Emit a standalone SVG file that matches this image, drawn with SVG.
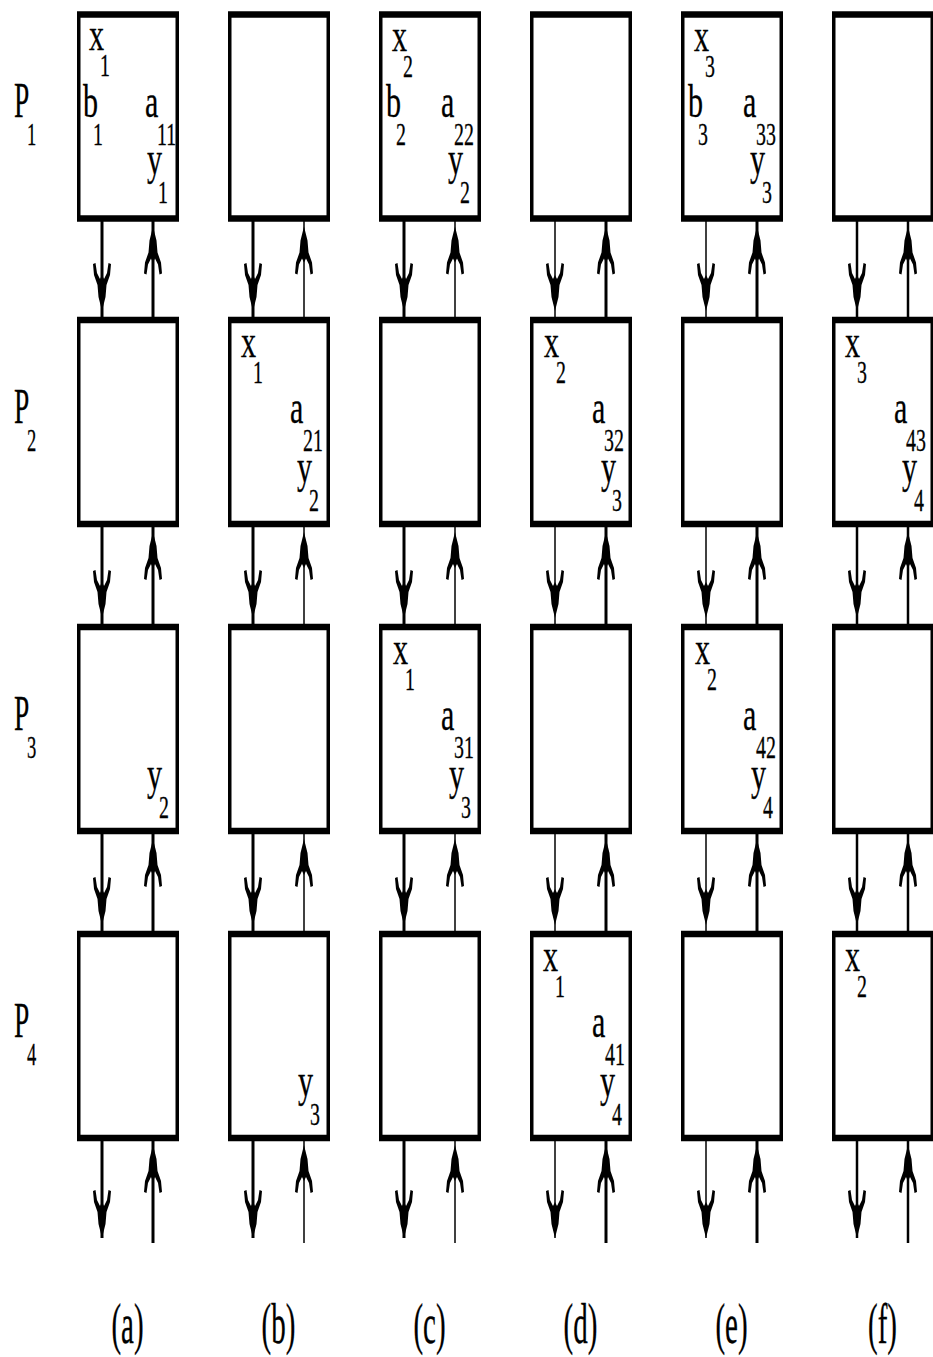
<svg xmlns="http://www.w3.org/2000/svg" xmlns:xlink="http://www.w3.org/1999/xlink" width="933" height="1357" viewBox="0 0 933 1357">
<style>
.bx{fill:#fff;stroke:#000;stroke-width:3.5}
.bd{stroke:#000;stroke-width:6.5}
.tk{stroke:#000;stroke-width:3}
.tn{stroke:#000;stroke-width:1.5}
.md{stroke:#000;stroke-width:2.5}
text{font-family:"Liberation Serif","Times New Roman",serif;fill:#000;stroke:#000;stroke-width:0.3}
.m{font-size:47px}
.s{font-size:31px}
.p{font-size:50px}
.ps{font-size:32px}
.l{font-size:58px;text-anchor:middle}
</style>
<defs>
<path id="hd" d="M0,0 L-3.5,-14 L-4.5,-26 L-8,-36 L-9,-47 L-6.5,-48 L-5,-38 L-2,-32 L0,-36 L2,-32 L5,-38 L6.5,-48 L9,-47 L8,-36 L4.5,-26 L3.5,-14 Z" fill="#000"/>
</defs>
<rect width="933" height="1357" fill="#fff"/>
<g id="connectors">
<line class="tk" x1="102" y1="218" x2="102" y2="320"/><use xlink:href="#hd" transform="translate(102,311)"/>
<line class="tk" x1="153" y1="218" x2="153" y2="320"/><use xlink:href="#hd" transform="translate(153,226.5) rotate(180)"/>
<line class="tk" x1="102" y1="524" x2="102" y2="627"/><use xlink:href="#hd" transform="translate(102,618)"/>
<line class="tk" x1="153" y1="524" x2="153" y2="627"/><use xlink:href="#hd" transform="translate(153,532) rotate(180)"/>
<line class="tk" x1="102" y1="831" x2="102" y2="934"/><use xlink:href="#hd" transform="translate(102,925)"/>
<line class="tk" x1="153" y1="831" x2="153" y2="934"/><use xlink:href="#hd" transform="translate(153,839) rotate(180)"/>
<line class="tk" x1="102" y1="1138" x2="102" y2="1238"/><use xlink:href="#hd" transform="translate(102,1238)"/>
<line class="tk" x1="153" y1="1243" x2="153" y2="1138"/><use xlink:href="#hd" transform="translate(153,1145) rotate(180)"/>
<line class="tk" x1="253" y1="218" x2="253" y2="320"/><use xlink:href="#hd" transform="translate(253,311)"/>
<line class="tn" x1="304" y1="218" x2="304" y2="320"/><use xlink:href="#hd" transform="translate(304,226.5) rotate(180)"/>
<line class="tk" x1="253" y1="524" x2="253" y2="627"/><use xlink:href="#hd" transform="translate(253,618)"/>
<line class="tn" x1="304" y1="524" x2="304" y2="627"/><use xlink:href="#hd" transform="translate(304,532) rotate(180)"/>
<line class="tk" x1="253" y1="831" x2="253" y2="934"/><use xlink:href="#hd" transform="translate(253,925)"/>
<line class="tn" x1="304" y1="831" x2="304" y2="934"/><use xlink:href="#hd" transform="translate(304,839) rotate(180)"/>
<line class="tk" x1="253" y1="1138" x2="253" y2="1238"/><use xlink:href="#hd" transform="translate(253,1238)"/>
<line class="tn" x1="304" y1="1243" x2="304" y2="1138"/><use xlink:href="#hd" transform="translate(304,1145) rotate(180)"/>
<line class="tk" x1="404" y1="218" x2="404" y2="320"/><use xlink:href="#hd" transform="translate(404,311)"/>
<line class="tn" x1="455" y1="218" x2="455" y2="320"/><use xlink:href="#hd" transform="translate(455,226.5) rotate(180)"/>
<line class="tk" x1="404" y1="524" x2="404" y2="627"/><use xlink:href="#hd" transform="translate(404,618)"/>
<line class="tn" x1="455" y1="524" x2="455" y2="627"/><use xlink:href="#hd" transform="translate(455,532) rotate(180)"/>
<line class="tk" x1="404" y1="831" x2="404" y2="934"/><use xlink:href="#hd" transform="translate(404,925)"/>
<line class="tn" x1="455" y1="831" x2="455" y2="934"/><use xlink:href="#hd" transform="translate(455,839) rotate(180)"/>
<line class="tk" x1="404" y1="1138" x2="404" y2="1238"/><use xlink:href="#hd" transform="translate(404,1238)"/>
<line class="tn" x1="455" y1="1243" x2="455" y2="1138"/><use xlink:href="#hd" transform="translate(455,1145) rotate(180)"/>
<line class="tn" x1="555" y1="218" x2="555" y2="320"/><use xlink:href="#hd" transform="translate(555,311)"/>
<line class="tk" x1="606" y1="218" x2="606" y2="320"/><use xlink:href="#hd" transform="translate(606,226.5) rotate(180)"/>
<line class="tn" x1="555" y1="524" x2="555" y2="627"/><use xlink:href="#hd" transform="translate(555,618)"/>
<line class="tk" x1="606" y1="524" x2="606" y2="627"/><use xlink:href="#hd" transform="translate(606,532) rotate(180)"/>
<line class="tn" x1="555" y1="831" x2="555" y2="934"/><use xlink:href="#hd" transform="translate(555,925)"/>
<line class="tk" x1="606" y1="831" x2="606" y2="934"/><use xlink:href="#hd" transform="translate(606,839) rotate(180)"/>
<line class="tn" x1="555" y1="1138" x2="555" y2="1238"/><use xlink:href="#hd" transform="translate(555,1238)"/>
<line class="tk" x1="606" y1="1243" x2="606" y2="1138"/><use xlink:href="#hd" transform="translate(606,1145) rotate(180)"/>
<line class="tn" x1="706" y1="218" x2="706" y2="320"/><use xlink:href="#hd" transform="translate(706,311)"/>
<line class="tk" x1="757" y1="218" x2="757" y2="320"/><use xlink:href="#hd" transform="translate(757,226.5) rotate(180)"/>
<line class="tn" x1="706" y1="524" x2="706" y2="627"/><use xlink:href="#hd" transform="translate(706,618)"/>
<line class="tk" x1="757" y1="524" x2="757" y2="627"/><use xlink:href="#hd" transform="translate(757,532) rotate(180)"/>
<line class="tn" x1="706" y1="831" x2="706" y2="934"/><use xlink:href="#hd" transform="translate(706,925)"/>
<line class="tk" x1="757" y1="831" x2="757" y2="934"/><use xlink:href="#hd" transform="translate(757,839) rotate(180)"/>
<line class="tn" x1="706" y1="1138" x2="706" y2="1238"/><use xlink:href="#hd" transform="translate(706,1238)"/>
<line class="tk" x1="757" y1="1243" x2="757" y2="1138"/><use xlink:href="#hd" transform="translate(757,1145) rotate(180)"/>
<line class="md" x1="857" y1="218" x2="857" y2="320"/><use xlink:href="#hd" transform="translate(857,311)"/>
<line class="md" x1="908" y1="218" x2="908" y2="320"/><use xlink:href="#hd" transform="translate(908,226.5) rotate(180)"/>
<line class="md" x1="857" y1="524" x2="857" y2="627"/><use xlink:href="#hd" transform="translate(857,618)"/>
<line class="md" x1="908" y1="524" x2="908" y2="627"/><use xlink:href="#hd" transform="translate(908,532) rotate(180)"/>
<line class="md" x1="857" y1="831" x2="857" y2="934"/><use xlink:href="#hd" transform="translate(857,925)"/>
<line class="md" x1="908" y1="831" x2="908" y2="934"/><use xlink:href="#hd" transform="translate(908,839) rotate(180)"/>
<line class="md" x1="857" y1="1138" x2="857" y2="1238"/><use xlink:href="#hd" transform="translate(857,1238)"/>
<line class="md" x1="908" y1="1243" x2="908" y2="1138"/><use xlink:href="#hd" transform="translate(908,1145) rotate(180)"/>
</g>
<g id="row1">
<g id="a1"><rect class="bx" x="78.75" y="14.5" width="98.5" height="204"/><line class="bd" x1="77" y1="14.5" x2="179" y2="14.5"/><line class="bd" x1="77" y1="218.5" x2="179" y2="218.5"/>
<text class="m" transform="translate(89 50) scale(.64 1)">x</text><text class="s" transform="translate(100 76) scale(.64 1)">1</text>
<text class="m" transform="translate(83 117) scale(.64 1)">b</text><text class="s" transform="translate(93 145) scale(.64 1)">1</text>
<text class="m" transform="translate(145 117) scale(.64 1)">a</text><text class="s" transform="translate(157 145) scale(.64 1)">11</text>
<text class="m" transform="translate(147 174) scale(.64 1)">y</text><text class="s" transform="translate(158 203) scale(.64 1)">1</text></g>
<g id="b1"><rect class="bx" x="229.75" y="14.5" width="98.5" height="204"/><line class="bd" x1="228" y1="14.5" x2="330" y2="14.5"/><line class="bd" x1="228" y1="218.5" x2="330" y2="218.5"/></g>
<g id="c1"><rect class="bx" x="380.75" y="14.5" width="98.5" height="204"/><line class="bd" x1="379" y1="14.5" x2="481" y2="14.5"/><line class="bd" x1="379" y1="218.5" x2="481" y2="218.5"/>
<text class="m" transform="translate(392 51) scale(.64 1)">x</text><text class="s" transform="translate(403 77) scale(.64 1)">2</text>
<text class="m" transform="translate(386 117) scale(.64 1)">b</text><text class="s" transform="translate(396 145) scale(.64 1)">2</text>
<text class="m" transform="translate(441 117) scale(.64 1)">a</text><text class="s" transform="translate(454 145) scale(.64 1)">22</text>
<text class="m" transform="translate(448 174) scale(.64 1)">y</text><text class="s" transform="translate(460 203) scale(.64 1)">2</text></g>
<g id="d1"><rect class="bx" x="531.75" y="14.5" width="98.5" height="204"/><line class="bd" x1="530" y1="14.5" x2="632" y2="14.5"/><line class="bd" x1="530" y1="218.5" x2="632" y2="218.5"/></g>
<g id="e1"><rect class="bx" x="682.75" y="14.5" width="98.5" height="204"/><line class="bd" x1="681" y1="14.5" x2="783" y2="14.5"/><line class="bd" x1="681" y1="218.5" x2="783" y2="218.5"/>
<text class="m" transform="translate(694 51) scale(.64 1)">x</text><text class="s" transform="translate(705 77) scale(.64 1)">3</text>
<text class="m" transform="translate(688 117) scale(.64 1)">b</text><text class="s" transform="translate(698 145) scale(.64 1)">3</text>
<text class="m" transform="translate(743 117) scale(.64 1)">a</text><text class="s" transform="translate(756 145) scale(.64 1)">33</text>
<text class="m" transform="translate(750 174) scale(.64 1)">y</text><text class="s" transform="translate(762 203) scale(.64 1)">3</text></g>
<g id="f1"><rect class="bx" x="833.75" y="14.5" width="98.5" height="204"/><line class="bd" x1="832" y1="14.5" x2="934" y2="14.5"/><line class="bd" x1="832" y1="218.5" x2="934" y2="218.5"/></g>
</g>
<g id="row2">
<g id="a2"><rect class="bx" x="78.75" y="320" width="98.5" height="204"/><line class="bd" x1="77" y1="320" x2="179" y2="320"/><line class="bd" x1="77" y1="524" x2="179" y2="524"/></g>
<g id="b2"><rect class="bx" x="229.75" y="320" width="98.5" height="204"/><line class="bd" x1="228" y1="320" x2="330" y2="320"/><line class="bd" x1="228" y1="524" x2="330" y2="524"/>
<text class="m" transform="translate(241 357) scale(.64 1)">x</text><text class="s" transform="translate(253 383) scale(.64 1)">1</text>
<text class="m" transform="translate(290 423) scale(.64 1)">a</text><text class="s" transform="translate(303 451) scale(.64 1)">21</text>
<text class="m" transform="translate(297 482) scale(.64 1)">y</text><text class="s" transform="translate(309 511) scale(.64 1)">2</text></g>
<g id="c2"><rect class="bx" x="380.75" y="320" width="98.5" height="204"/><line class="bd" x1="379" y1="320" x2="481" y2="320"/><line class="bd" x1="379" y1="524" x2="481" y2="524"/></g>
<g id="d2"><rect class="bx" x="531.75" y="320" width="98.5" height="204"/><line class="bd" x1="530" y1="320" x2="632" y2="320"/><line class="bd" x1="530" y1="524" x2="632" y2="524"/>
<text class="m" transform="translate(544 357) scale(.64 1)">x</text><text class="s" transform="translate(556 383) scale(.64 1)">2</text>
<text class="m" transform="translate(592 423) scale(.64 1)">a</text><text class="s" transform="translate(604 451) scale(.64 1)">32</text>
<text class="m" transform="translate(601 482) scale(.64 1)">y</text><text class="s" transform="translate(612 511) scale(.64 1)">3</text></g>
<g id="e2"><rect class="bx" x="682.75" y="320" width="98.5" height="204"/><line class="bd" x1="681" y1="320" x2="783" y2="320"/><line class="bd" x1="681" y1="524" x2="783" y2="524"/></g>
<g id="f2"><rect class="bx" x="833.75" y="320" width="98.5" height="204"/><line class="bd" x1="832" y1="320" x2="934" y2="320"/><line class="bd" x1="832" y1="524" x2="934" y2="524"/>
<text class="m" transform="translate(845 357) scale(.64 1)">x</text><text class="s" transform="translate(857 383) scale(.64 1)">3</text>
<text class="m" transform="translate(894 423) scale(.64 1)">a</text><text class="s" transform="translate(906 451) scale(.64 1)">43</text>
<text class="m" transform="translate(902 482) scale(.64 1)">y</text><text class="s" transform="translate(914 511) scale(.64 1)">4</text></g>
</g>
<g id="row3">
<g id="a3"><rect class="bx" x="78.75" y="627" width="98.5" height="204"/><line class="bd" x1="77" y1="627" x2="179" y2="627"/><line class="bd" x1="77" y1="831" x2="179" y2="831"/>
<text class="m" transform="translate(147 789) scale(.64 1)">y</text><text class="s" transform="translate(159 818) scale(.64 1)">2</text></g>
<g id="b3"><rect class="bx" x="229.75" y="627" width="98.5" height="204"/><line class="bd" x1="228" y1="627" x2="330" y2="627"/><line class="bd" x1="228" y1="831" x2="330" y2="831"/></g>
<g id="c3"><rect class="bx" x="380.75" y="627" width="98.5" height="204"/><line class="bd" x1="379" y1="627" x2="481" y2="627"/><line class="bd" x1="379" y1="831" x2="481" y2="831"/>
<text class="m" transform="translate(393 664) scale(.64 1)">x</text><text class="s" transform="translate(405 690) scale(.64 1)">1</text>
<text class="m" transform="translate(441 730) scale(.64 1)">a</text><text class="s" transform="translate(454 758) scale(.64 1)">31</text>
<text class="m" transform="translate(449 789) scale(.64 1)">y</text><text class="s" transform="translate(461 818) scale(.64 1)">3</text></g>
<g id="d3"><rect class="bx" x="531.75" y="627" width="98.5" height="204"/><line class="bd" x1="530" y1="627" x2="632" y2="627"/><line class="bd" x1="530" y1="831" x2="632" y2="831"/></g>
<g id="e3"><rect class="bx" x="682.75" y="627" width="98.5" height="204"/><line class="bd" x1="681" y1="627" x2="783" y2="627"/><line class="bd" x1="681" y1="831" x2="783" y2="831"/>
<text class="m" transform="translate(695 664) scale(.64 1)">x</text><text class="s" transform="translate(707 690) scale(.64 1)">2</text>
<text class="m" transform="translate(743 730) scale(.64 1)">a</text><text class="s" transform="translate(756 758) scale(.64 1)">42</text>
<text class="m" transform="translate(751 789) scale(.64 1)">y</text><text class="s" transform="translate(763 818) scale(.64 1)">4</text></g>
<g id="f3"><rect class="bx" x="833.75" y="627" width="98.5" height="204"/><line class="bd" x1="832" y1="627" x2="934" y2="627"/><line class="bd" x1="832" y1="831" x2="934" y2="831"/></g>
</g>
<g id="row4">
<g id="a4"><rect class="bx" x="78.75" y="934" width="98.5" height="204"/><line class="bd" x1="77" y1="934" x2="179" y2="934"/><line class="bd" x1="77" y1="1138" x2="179" y2="1138"/></g>
<g id="b4"><rect class="bx" x="229.75" y="934" width="98.5" height="204"/><line class="bd" x1="228" y1="934" x2="330" y2="934"/><line class="bd" x1="228" y1="1138" x2="330" y2="1138"/>
<text class="m" transform="translate(298 1096) scale(.64 1)">y</text><text class="s" transform="translate(310 1125) scale(.64 1)">3</text></g>
<g id="c4"><rect class="bx" x="380.75" y="934" width="98.5" height="204"/><line class="bd" x1="379" y1="934" x2="481" y2="934"/><line class="bd" x1="379" y1="1138" x2="481" y2="1138"/></g>
<g id="d4"><rect class="bx" x="531.75" y="934" width="98.5" height="204"/><line class="bd" x1="530" y1="934" x2="632" y2="934"/><line class="bd" x1="530" y1="1138" x2="632" y2="1138"/>
<text class="m" transform="translate(543 971) scale(.64 1)">x</text><text class="s" transform="translate(555 997) scale(.64 1)">1</text>
<text class="m" transform="translate(592 1037) scale(.64 1)">a</text><text class="s" transform="translate(605 1065) scale(.64 1)">41</text>
<text class="m" transform="translate(600 1096) scale(.64 1)">y</text><text class="s" transform="translate(612 1125) scale(.64 1)">4</text></g>
<g id="e4"><rect class="bx" x="682.75" y="934" width="98.5" height="204"/><line class="bd" x1="681" y1="934" x2="783" y2="934"/><line class="bd" x1="681" y1="1138" x2="783" y2="1138"/></g>
<g id="f4"><rect class="bx" x="833.75" y="934" width="98.5" height="204"/><line class="bd" x1="832" y1="934" x2="934" y2="934"/><line class="bd" x1="832" y1="1138" x2="934" y2="1138"/>
<text class="m" transform="translate(845 971) scale(.64 1)">x</text><text class="s" transform="translate(857 997) scale(.64 1)">2</text></g>
</g>
<g id="rowlabels">
<text class="p" transform="translate(14 117) scale(.55 1)">P</text><text class="ps" transform="translate(27 145) scale(.58 1)">1</text>
<text class="p" transform="translate(14 423) scale(.55 1)">P</text><text class="ps" transform="translate(27 451) scale(.58 1)">2</text>
<text class="p" transform="translate(14 730) scale(.55 1)">P</text><text class="ps" transform="translate(27 758) scale(.58 1)">3</text>
<text class="p" transform="translate(14 1037) scale(.55 1)">P</text><text class="ps" transform="translate(27 1065) scale(.58 1)">4</text>
</g>
<g id="collabels">
<text class="l" transform="translate(127.5 1343) scale(.5 1)">(a)</text>
<text class="l" transform="translate(278.5 1343) scale(.5 1)">(b)</text>
<text class="l" transform="translate(429.5 1343) scale(.5 1)">(c)</text>
<text class="l" transform="translate(580.5 1343) scale(.5 1)">(d)</text>
<text class="l" transform="translate(731.5 1343) scale(.5 1)">(e)</text>
<text class="l" transform="translate(882.5 1343) scale(.5 1)">(f)</text>
</g>
</svg>
